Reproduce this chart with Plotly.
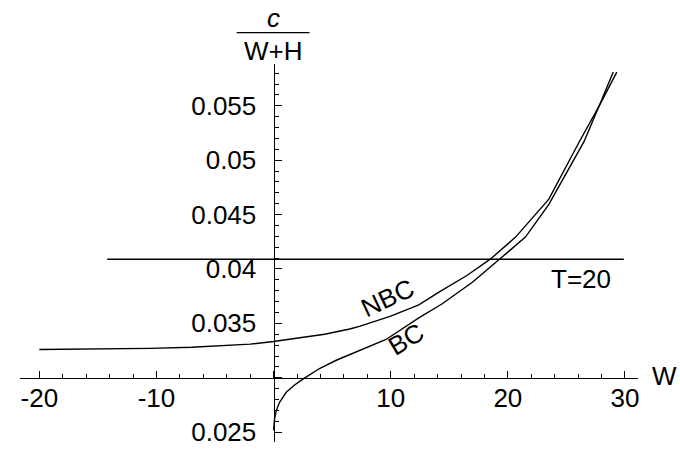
import plotly.graph_objects as go

# ---- data ----
nbc_w = [-20, -15, -10.5, -7, -4.9, -2, 0, 2.2, 4.35, 6.5, 7.33, 10, 12.4, 14.15, 16.5, 18.5,
         20.66, 23.5, 26.1, 27.8, 29.3]
nbc_c = [0.0326, 0.03263, 0.0327, 0.0328, 0.0329, 0.03309, 0.03333, 0.03364, 0.034, 0.03448, 0.03473,
         0.03566, 0.0367, 0.0379, 0.0394, 0.0409, 0.04293, 0.04642, 0.0517, 0.0550, 0.0581]

bc_w = [0, 0.02, 0.085, 0.23, 0.51, 1.08, 1.79, 2.5, 3.92, 5.35, 6.76, 8.18, 9.6, 12.4, 14.4, 17,
        19.27, 21.5, 23.5, 26.5, 27.8, 29.0]
bc_c = [0.02518, 0.0256, 0.02624, 0.027, 0.02775, 0.02866, 0.02933, 0.02988, 0.03085, 0.03161, 0.03225,
        0.03285, 0.03352, 0.0355, 0.0368, 0.0388, 0.0409, 0.04293, 0.04594, 0.0517, 0.0550, 0.0581]

t_w = [-14.2, 29.9]
t_c = [0.0409, 0.0409]

x_tickvals = [-20, -10, 0, 10, 20, 30]
x_ticktext = ["-20", "-10", "", "10", "20", "30"]
y_tickvals = [0.025, 0.03, 0.035, 0.04, 0.045, 0.05, 0.055]
y_ticktext = ["0.025", "", "0.035", "0.04", "0.045", "0.05", "0.055"]

FONT = "Liberation Sans, Arial, sans-serif"
FS = 26

fig = go.Figure()
line = dict(color="black", width=1.4)
fig.add_trace(go.Scatter(x=nbc_w, y=nbc_c, mode="lines", line=line, name="NBC"))
fig.add_trace(go.Scatter(x=bc_w, y=bc_c, mode="lines", line=line, name="BC"))
fig.add_trace(go.Scatter(x=t_w, y=t_c, mode="lines", line=line, name="T=20"))

W, H = 680, 451

def fx(sx):   # screen x -> paper fraction
    return sx / W

def fy(sy):   # screen y -> paper fraction
    return (H - sy) / H

x0px, pxu = 274.0, 11.73          # screen pixel of W=0, pixels per unit
y0px, pyu = 382.0, 11000.0        # screen pixel of c=0.03, pixels per unit
xr = [(20 - x0px) / pxu, (639 - x0px) / pxu]
yr = [0.03 - (447 - y0px) / pyu, 0.03 + (y0px - 65) / pyu]

fig.update_layout(
    width=W, height=H,
    margin=dict(l=0, r=0, t=0, b=0),
    paper_bgcolor="white", plot_bgcolor="white",
    showlegend=False,
    font=dict(family=FONT, size=FS, color="black"),
    xaxis=dict(
        domain=[fx(20), fx(639)], range=xr, anchor="free",
        position=fy(y0px),
        showgrid=False, zeroline=False, showline=True, linecolor="black", linewidth=1.2,
        tickmode="array", tickvals=x_tickvals, ticktext=x_ticktext,
        ticks="inside", ticklen=7, tickwidth=1, tickcolor="black",
        minor=dict(ticks="inside", tick0=0, dtick=2, ticklen=4, tickwidth=1, tickcolor="black"),
        tickfont=dict(family=FONT, size=FS, color="black"),
        ticklabelstandoff=-3,
        ticklabeloverflow="allow",
        fixedrange=True,
    ),
    yaxis=dict(
        domain=[fy(447), fy(65)], range=yr, anchor="free",
        position=fx(x0px),
        showgrid=False, zeroline=False, showline=True, linecolor="black", linewidth=1.2,
        tickmode="array", tickvals=y_tickvals, ticktext=y_ticktext,
        ticks="inside", ticklen=7, tickwidth=1, tickcolor="black",
        minor=dict(ticks="inside", tick0=0, dtick=0.001, ticklen=4, tickwidth=1, tickcolor="black"),
        tickfont=dict(family=FONT, size=FS, color="black"),
        ticklabelstandoff=12,
        ticklabeloverflow="allow",
        fixedrange=True,
    ),
)

def px2x(p):
    return (p - x0px) / pxu

def px2y(p):
    return 0.03 + (y0px - p) / pyu

ann = [
    dict(text="NBC", x=px2x(388), y=px2y(301), textangle=-25),
    dict(text="BC", x=px2x(407), y=px2y(343), textangle=-31),
    dict(text="T=20", x=px2x(582), y=px2y(282), textangle=0),
]
for a in ann:
    fig.add_annotation(x=a["x"], y=a["y"], xref="x", yref="y", text=a["text"], textangle=a["textangle"],
                       showarrow=False, font=dict(family=FONT, size=FS, color="black"),
                       xanchor="center", yanchor="middle")

fig.add_annotation(x=fx(665), y=fy(380), xref="paper", yref="paper", text="W", showarrow=False,
                   font=dict(family=FONT, size=FS, color="black"), xanchor="center", yanchor="middle")
fig.add_annotation(x=fx(274), y=fy(18), xref="paper", yref="paper", text="<i>c</i>", showarrow=False,
                   font=dict(family=FONT, size=FS, color="black"), xanchor="center", yanchor="middle")
fig.add_annotation(x=fx(274), y=fy(52), xref="paper", yref="paper", text="W+H", showarrow=False,
                   font=dict(family=FONT, size=FS, color="black"), xanchor="center", yanchor="middle")
fig.add_shape(type="line", xref="paper", yref="paper", x0=fx(237), x1=fx(310),
              y0=fy(33), y1=fy(33), line=dict(color="black", width=1.2))

fig.write_html("out.html", config={"displayModeBar": False},
               post_script="document.body.style.margin='0';document.body.style.overflow='hidden';")
